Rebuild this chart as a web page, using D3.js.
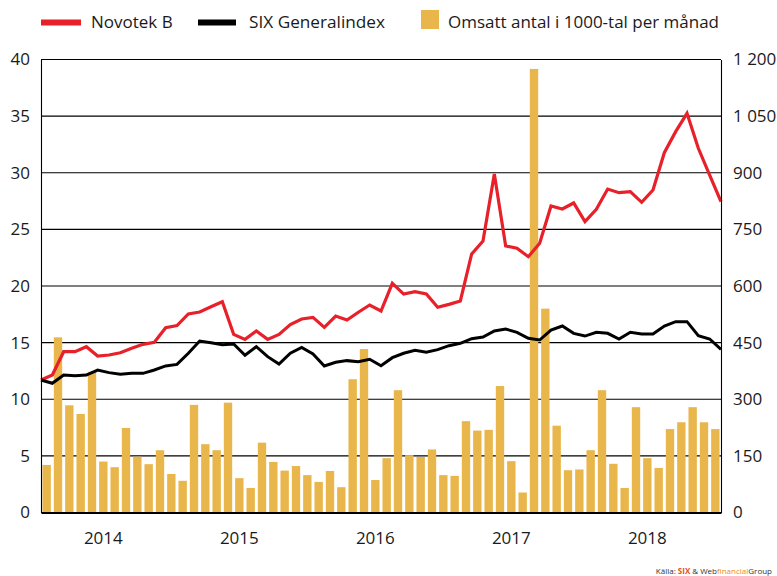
<!DOCTYPE html>
<html>
<head>
<meta charset="utf-8">
<script src="https://cdn.jsdelivr.net/npm/d3@7"></script>
<style>
  body { margin: 0; background: #fff; }
  svg { display: block; }
</style>
</head>
<body>
<div id="chart"></div>
<script>
// month categories (Jan 2014 - Dec 2018), one bar per month
const months = [
  '2014-01','2014-02','2014-03','2014-04','2014-05','2014-06','2014-07','2014-08','2014-09','2014-10','2014-11','2014-12',
  '2015-01','2015-02','2015-03','2015-04','2015-05','2015-06','2015-07','2015-08','2015-09','2015-10','2015-11','2015-12',
  '2016-01','2016-02','2016-03','2016-04','2016-05','2016-06','2016-07','2016-08','2016-09','2016-10','2016-11','2016-12',
  '2017-01','2017-02','2017-03','2017-04','2017-05','2017-06','2017-07','2017-08','2017-09','2017-10','2017-11','2017-12',
  '2018-01','2018-02','2018-03','2018-04','2018-05','2018-06','2018-07','2018-08','2018-09','2018-10','2018-11','2018-12'
];
const yearLabels = ['2014', '2015', '2016', '2017', '2018'];
const yearTickMonths = ['2014-06', '2015-06', '2016-06', '2017-06', '2018-06'];

// share price, value at each month boundary (61 points)
const novotek = [
  11.70, 12.14, 14.20, 14.20, 14.64, 13.82, 13.91, 14.11, 14.50, 14.85, 15.03, 16.32,
  16.50, 17.53, 17.70, 18.17, 18.61, 15.73, 15.29, 16.03, 15.29, 15.73, 16.60, 17.09,
  17.23, 16.35, 17.35, 17.00, 17.68, 18.32, 17.79, 20.24, 19.29, 19.50, 19.29, 18.12,
  18.38, 18.68, 22.83, 23.97, 29.89, 23.53, 23.33, 22.59, 23.77, 27.06, 26.80, 27.33,
  25.68, 26.77, 28.56, 28.24, 28.33, 27.39, 28.48, 31.77, 33.63, 35.25, 32.16, 29.80,
  27.44
];

// SIX Generalindex, rebased to the left axis (61 points)
const sixIndex = [
  11.70, 11.41, 12.14, 12.08, 12.14, 12.58, 12.35, 12.20, 12.29, 12.29, 12.58, 12.94,
  13.08, 14.06, 15.14, 14.99, 14.82, 14.88, 13.88, 14.64, 13.76, 13.11, 14.06, 14.58,
  14.00, 12.94, 13.26, 13.41, 13.32, 13.53, 12.96, 13.67, 14.06, 14.32, 14.15, 14.38,
  14.73, 14.94, 15.35, 15.50, 16.03, 16.20, 15.91, 15.38, 15.23, 16.11, 16.47, 15.82,
  15.58, 15.91, 15.82, 15.32, 15.91, 15.76, 15.76, 16.47, 16.85, 16.85, 15.61, 15.32,
  14.41
];

// traded volume, thousands of shares per month (60 bars)
const volume = [
  126, 464, 284, 261, 373, 135, 120, 224, 148, 128, 165, 102,
  84, 285, 181, 165, 291, 91, 65, 185, 134, 111, 123, 99,
  81, 110, 67, 353, 433, 86, 144, 324, 152, 147, 167, 99,
  97, 242, 217, 219, 335, 136, 53, 1175, 540, 230, 112, 114,
  165, 324, 129, 65, 279, 144, 118, 221, 239, 279, 239, 221
];

const leftTicks = [0, 5, 10, 15, 20, 25, 30, 35, 40];
const rightTicks = [0, 150, 300, 450, 600, 750, 900, 1050, 1200];

const width = 777;
const height = 576;
const margin = {top: 59.5, right: 56, bottom: 63.5, left: 41};

const red = '#e8202a';
const gold = '#e9b64b';
const font = '"Open Sans", "DejaVu Sans", sans-serif';

const svg = d3.select('#chart')
  .append('svg')
    .attr('width', width)
    .attr('height', height)
    .attr('font-family', font);

const x = d3.scaleBand()
  .domain(months)
  .range([margin.left, width - margin.right])
  .paddingInner(0.26)
  .paddingOuter(0.13);

// lines sit on the month boundaries
const xLine = d3.scaleLinear()
  .domain([0, months.length])
  .range([margin.left, width - margin.right]);

const y = d3.scaleLinear()
  .domain([0, 40])
  .range([height - margin.bottom, margin.top]);

const yRight = d3.scaleLinear()
  .domain([0, 1200])
  .range([height - margin.bottom, margin.top]);

// gridlines
svg.append('g')
  .selectAll('line')
  .data(leftTicks.slice(1))
  .join('line')
    .attr('x1', margin.left)
    .attr('x2', width - margin.right)
    .attr('y1', d => y(d))
    .attr('y2', d => y(d))
    .attr('stroke', '#000')
    .attr('stroke-width', 1.1);

// volume bars
svg.append('g')
    .attr('fill', gold)
  .selectAll('rect')
  .data(volume)
  .join('rect')
    .attr('x', (d, i) => x(months[i]))
    .attr('y', d => yRight(d))
    .attr('width', x.bandwidth())
    .attr('height', d => yRight(0) - yRight(d));

const line = d3.line()
  .x((d, i) => xLine(i))
  .y(d => y(d));

svg.append('path')
  .datum(novotek)
  .attr('fill', 'none')
  .attr('stroke', red)
  .attr('stroke-width', 3.2)
  .attr('d', line);

svg.append('path')
  .datum(sixIndex)
  .attr('fill', 'none')
  .attr('stroke', '#000')
  .attr('stroke-width', 3)
  .attr('d', line);

// axes
function leftAxis(g) {
  g.attr('transform', `translate(${margin.left}, 0)`)
    .call(d3.axisLeft(y).tickValues(leftTicks).tickSize(0).tickPadding(11))
    .call(g => g.select('.domain').attr('stroke-width', 1.1));
  g.selectAll('text')
    .attr('font-family', font)
    .attr('font-size', '17px')
    .attr('fill', '#1a1a1a');
}

const fmt = d3.formatLocale({decimal: ',', thousands: '\u00a0', grouping: [3], currency: ['', '']}).format(',');

function rightAxis(g) {
  g.attr('transform', `translate(${width - margin.right}, 0)`)
    .call(d3.axisRight(yRight).tickValues(rightTicks).tickSize(0).tickPadding(12).tickFormat(fmt))
    .call(g => g.select('.domain').attr('stroke-width', 1.1));
  g.selectAll('text')
    .attr('font-family', font)
    .attr('font-size', '17px')
    .attr('fill', '#1a1a1a');
}

function bottomAxis(g) {
  g.attr('transform', `translate(0, ${height - margin.bottom})`)
    .call(d3.axisBottom(x).tickValues(yearTickMonths).tickSize(0).tickSizeOuter(0).tickPadding(19)
      .tickFormat((d, i) => yearLabels[i]))
    .call(g => g.select('.domain').attr('stroke-width', 2.2));
  g.selectAll('text')
    .attr('font-family', font)
    .attr('font-size', '17px')
    .attr('fill', '#1a1a1a');
}

svg.append('g').call(leftAxis);
svg.append('g').call(rightAxis);
svg.append('g').call(bottomAxis);

// legend
const legend = svg.append('g')
  .attr('font-size', '17px')
  .attr('fill', '#1a1a1a');

legend.append('rect')
  .attr('x', 41).attr('y', 19.5).attr('width', 40).attr('height', 6)
  .attr('fill', red);
legend.append('text')
  .attr('x', 91).attr('y', 27.5)
  .text('Novotek B');

legend.append('rect')
  .attr('x', 198).attr('y', 19.5).attr('width', 38).attr('height', 6)
  .attr('fill', '#000');
legend.append('text')
  .attr('x', 249).attr('y', 27.5)
  .attr('textLength', 136).attr('lengthAdjust', 'spacingAndGlyphs')
  .text('SIX Generalindex');

legend.append('rect')
  .attr('x', 421).attr('y', 10).attr('width', 18).attr('height', 19)
  .attr('fill', gold);
legend.append('text')
  .attr('x', 448).attr('y', 27.5)
  .attr('textLength', 271).attr('lengthAdjust', 'spacingAndGlyphs')
  .text('Omsatt antal i 1000-tal per månad');

// source note
const source = svg.append('text')
  .attr('x', 772).attr('y', 574)
  .attr('text-anchor', 'end')
  .attr('font-size', '8px')
  .attr('fill', '#333');
source.append('tspan').text('Källa: ');
source.append('tspan').attr('fill', '#e8501e').attr('font-weight', 'bold').text('SIX');
source.append('tspan').text(' & Web');
source.append('tspan').attr('fill', '#f08a24').text('financial');
source.append('tspan').text('Group');
</script>
</body>
</html>
